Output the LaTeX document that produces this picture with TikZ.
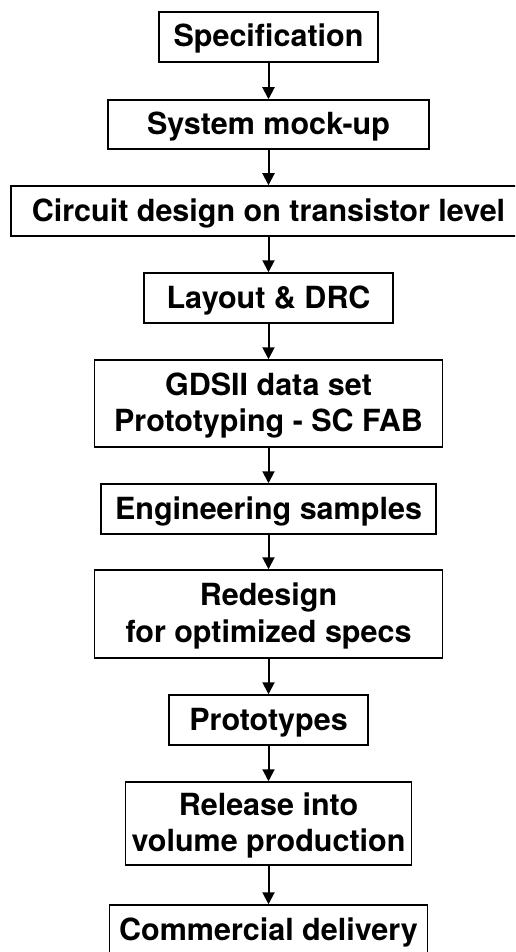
\documentclass[tikz,border=0pt]{standalone}
\usepackage{fontspec}
\setmainfont{TeX Gyre Heros}
\usetikzlibrary{arrows.meta}
\begin{document}
\begin{tikzpicture}[x=1pt,y=-1pt,
  box/.style={draw=black, line width=1.5pt, rectangle, inner sep=0pt},
  lbl/.style={anchor=base, inner sep=0pt, font=\fontsize{30.5}{36.7}\selectfont\bfseries},
  arr/.style={draw=black, line width=2pt, -{Triangle[width=12pt,length=12pt]}}]
\useasboundingbox (0,0) rectangle (515,952);
\clip (0,0) rectangle (515,952);
% boxes
\node[box, minimum width=219pt, minimum height=50pt] (spec)   at (268.5,37)    {};
\node[box, minimum width=321pt, minimum height=49pt] (sys)    at (268.5,124.5) {};
\node[box, minimum width=515pt, minimum height=50pt] (circ)   at (268.5,211)   {};
\node[box, minimum width=249pt, minimum height=50pt] (layout) at (268.5,298)   {};
\node[box, minimum width=348pt, minimum height=87pt] (gds)    at (268.5,403.5) {};
\node[box, minimum width=335pt, minimum height=50pt] (eng)    at (268.5,509)   {};
\node[box, minimum width=348pt, minimum height=88pt] (redes)  at (268.5,614)   {};
\node[box, minimum width=199pt, minimum height=50pt] (proto)  at (268.5,720)   {};
\node[box, minimum width=286pt, minimum height=83pt] (rel)    at (268.5,823.5) {};
\node[box, minimum width=318pt, minimum height=50pt] (comm)   at (268.5,930)   {};
% texts
\node[lbl] (tspec)   at (268.5,47)    {Specification};
\node[lbl] (tsys)    at (268.5,134.5) {System mock-up};
\node[lbl] (tcirc)   at (268.5,221)   {Circuit design on transistor level};
\node[lbl] (tlayout) at (268.5,308)   {Layout \& DRC};
\node[lbl] (tgdsa)   at (268.5,395.1) {GDSII data set};
\node[lbl] (tgdsb)   at (268.5,431.8) {Prototyping - SC FAB};
\node[lbl] (teng)    at (268.5,519)   {Engineering samples};
\node[lbl] (tredesa) at (268.5,605.6) {Redesign};
\node[lbl] (tredesb) at (268.5,642.3) {for optimized specs};
\node[lbl] (tproto)  at (268.5,730)   {Prototypes};
\node[lbl] (trela)   at (268.5,815.1) {Release into};
\node[lbl] (trelb)   at (268.5,851.8) {volume production};
\node[lbl] (tcomm)   at (268.5,940)   {Commercial delivery};
% arrows
\draw[arr] (spec) -- (sys);
\draw[arr] (sys) -- (circ);
\draw[arr] (circ) -- (layout);
\draw[arr] (layout) -- (gds);
\draw[arr] (gds) -- (eng);
\draw[arr] (eng) -- (redes);
\draw[arr] (redes) -- (proto);
\draw[arr] (proto) -- (rel);
\draw[arr] (rel) -- (comm);
\end{tikzpicture}
\end{document}
